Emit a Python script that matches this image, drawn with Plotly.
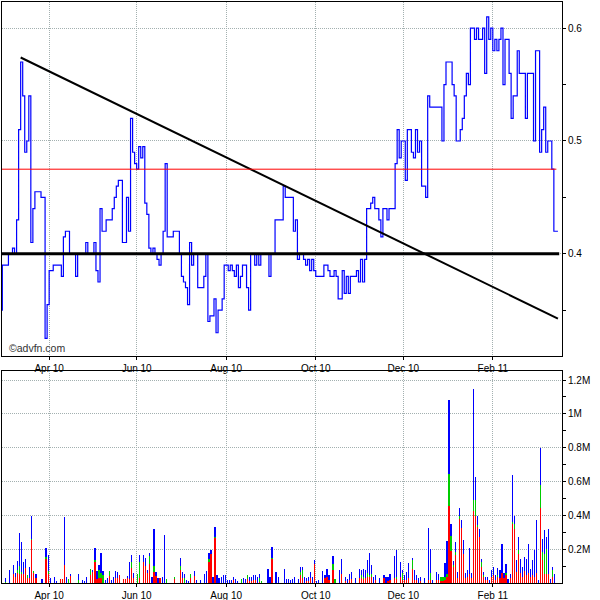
import pandas as pd
import plotly.graph_objects as go

# Trading days (weekdays), first entry is the previous close day
dates = pd.bdate_range("2010-02-26", "2011-03-17")

# Daily closing price
price = [0.35,
    0.39, 0.39, 0.39, 0.40, 0.40, 0.405, 0.40, 0.43, 0.51, 0.57,
    0.54, 0.49, 0.50, 0.54, 0.41, 0.44, 0.455, 0.455, 0.455, 0.45,
    0.45, 0.325, 0.355, 0.385, 0.385, 0.39, 0.39, 0.39, 0.39, 0.38,
    0.415, 0.42, 0.42, 0.40, 0.40, 0.40, 0.38, 0.40, 0.40, 0.40,
    0.40, 0.41, 0.40, 0.40, 0.40, 0.41, 0.385, 0.375, 0.44, 0.42,
    0.42, 0.43, 0.43, 0.43, 0.44, 0.45, 0.46, 0.465, 0.465, 0.41,
    0.41, 0.45, 0.42, 0.52, 0.49, 0.48, 0.475, 0.495, 0.485, 0.495,
    0.445, 0.435, 0.405, 0.40, 0.405, 0.40, 0.395, 0.39, 0.40, 0.42,
    0.48, 0.415, 0.415, 0.415, 0.42, 0.42, 0.42, 0.40, 0.38, 0.375,
    0.37, 0.355, 0.41, 0.39, 0.40, 0.40, 0.37, 0.37, 0.37, 0.38,
    0.40, 0.34, 0.345, 0.345, 0.36, 0.33, 0.35, 0.35, 0.36, 0.39,
    0.39, 0.385, 0.39, 0.385, 0.38, 0.39, 0.37, 0.38, 0.39, 0.39,
    0.37, 0.35, 0.40, 0.40, 0.39, 0.40, 0.39, 0.40, 0.40, 0.40,
    0.40, 0.38, 0.40, 0.40, 0.43, 0.43, 0.43, 0.43, 0.46, 0.45,
    0.45, 0.45, 0.45, 0.42, 0.43, 0.395, 0.40, 0.40, 0.395, 0.39,
    0.395, 0.385, 0.395, 0.385, 0.38, 0.38, 0.38, 0.38, 0.39, 0.39,
    0.385, 0.38, 0.38, 0.385, 0.38, 0.36, 0.36, 0.385, 0.365, 0.38,
    0.365, 0.38, 0.38, 0.38, 0.385, 0.375, 0.395, 0.375, 0.395, 0.44,
    0.44, 0.445, 0.45, 0.44, 0.44, 0.43, 0.415, 0.44, 0.44, 0.43,
    0.44, 0.44, 0.44, 0.48, 0.51, 0.485, 0.50, 0.50, 0.465, 0.51,
    0.51, 0.49, 0.485, 0.51, 0.49, 0.50, 0.46, 0.46, 0.45, 0.54,
    0.53, 0.53, 0.53, 0.53, 0.53, 0.53, 0.50, 0.55, 0.57, 0.57,
    0.57, 0.55, 0.54, 0.50, 0.50, 0.51, 0.52, 0.54, 0.56, 0.55,
    0.60, 0.60, 0.59, 0.60, 0.59, 0.59, 0.60, 0.56, 0.61, 0.59,
    0.60, 0.58, 0.59, 0.58, 0.59, 0.60, 0.55, 0.59, 0.59, 0.56,
    0.52, 0.54, 0.54, 0.58, 0.56, 0.56, 0.56, 0.52, 0.56, 0.56,
    0.56, 0.50, 0.58, 0.58, 0.49, 0.51, 0.53, 0.49, 0.50, 0.50,
    0.475, 0.42, 0.42, 0.42]

# Volume split (thousands of shares): red bottom, green middle, blue top
vol_red = [0,
    0, 0, 0, 0, 0, 57, 40, 63, 57, 57,
    57, 93, 34, 34, 258, 61, 34, 0, 0, 0,
    0, 142, 57, 0, 0, 0, 0, 0, 24, 24,
    106, 0, 0, 41, 0, 0, 0, 0, 0, 0,
    0, 0, 0, 47, 67, 124, 28, 34, 34, 0,
    0, 0, 41, 0, 0, 34, 34, 47, 0, 24,
    24, 34, 28, 93, 34, 0, 0, 34, 0, 126,
    103, 61, 116, 0, 67, 41, 0, 30, 0, 0,
    0, 0, 0, 0, 24, 0, 0, 81, 34, 0,
    0, 0, 30, 0, 41, 0, 0, 0, 0, 0,
    0, 124, 175, 0, 268, 0, 0, 0, 0, 0,
    0, 0, 0, 20, 0, 0, 0, 0, 0, 0,
    24, 15, 15, 20, 20, 0, 10, 0, 0, 0,
    0, 0, 144, 0, 0, 0, 0, 0, 0, 0,
    0, 0, 0, 0, 0, 0, 47, 30, 0, 15,
    15, 30, 0, 112, 0, 0, 0, 0, 30, 40,
    20, 0, 77, 0, 0, 0, 57, 0, 15, 0,
    20, 25, 0, 0, 0, 30, 30, 30, 30, 40,
    40, 40, 0, 20, 0, 0, 0, 30, 0, 15,
    20, 0, 30, 30, 0, 40, 20, 20, 20, 30,
    0, 83, 20, 20, 0, 15, 0, 0, 0, 20,
    18, 0, 0, 20, 20, 16, 16, 20, 37, 456,
    189, 100, 166, 30, 379, 329, 176, 30, 40, 53,
    30, 426, 400, 333, 274, 97, 40, 20, 20, 0,
    40, 50, 20, 40, 30, 60, 30, 50, 0, 30,
    355, 323, 67, 176, 60, 40, 70, 50, 60, 40,
    50, 40, 60, 0, 446, 136, 57, 57, 57, 0,
    37, 0, 0, 0]

vol_green = [0,
    0, 5, 0, 0, 0, 0, 0, 14, 45, 10,
    0, 0, 13, 0, 6, 10, 0, 0, 0, 0,
    0, 14, 14, 0, 0, 0, 0, 0, 0, 0,
    0, 0, 25, 0, 0, 0, 0, 20, 0, 0,
    0, 0, 0, 36, 0, 14, 0, 43, 24, 47,
    0, 0, 30, 0, 0, 0, 0, 0, 0, 0,
    0, 0, 0, 32, 0, 0, 53, 90, 0, 0,
    0, 0, 43, 0, 34, 0, 0, 0, 0, 0,
    24, 0, 0, 0, 16, 0, 0, 20, 0, 30,
    0, 0, 23, 0, 0, 0, 0, 0, 0, 0,
    0, 22, 0, 0, 6, 0, 0, 0, 0, 0,
    0, 0, 0, 0, 0, 0, 0, 24, 0, 0,
    23, 0, 0, 0, 0, 0, 20, 12, 0, 0,
    0, 0, 6, 0, 0, 0, 0, 0, 0, 0,
    0, 0, 0, 0, 0, 0, 20, 50, 0, 0,
    0, 0, 0, 0, 0, 0, 0, 0, 0, 0,
    0, 0, 39, 24, 0, 0, 0, 0, 0, 0,
    0, 0, 0, 0, 0, 0, 20, 10, 0, 20,
    10, 15, 0, 0, 0, 0, 0, 0, 0, 0,
    0, 0, 0, 10, 0, 0, 40, 0, 0, 0,
    0, 53, 0, 0, 0, 0, 0, 0, 0, 0,
    40, 0, 0, 0, 0, 20, 20, 16, 20, 193,
    89, 10, 20, 0, 18, 0, 0, 0, 0, 0,
    0, 65, 95, 10, 0, 29, 10, 0, 0, 0,
    0, 0, 0, 10, 0, 0, 0, 10, 0, 0,
    10, 30, 0, 20, 0, 0, 0, 0, 0, 0,
    0, 0, 0, 0, 138, 49, 118, 148, 0, 0,
    40, 0, 0, 0]

vol_blue = [0,
    0, 29, 0, 80, 0, 53, 23, 53, 194, 176,
    67, 49, 0, 61, 136, 0, 19, 0, 0, 24,
    0, 53, 95, 30, 0, 35, 12, 0, 0, 0,
    284, 40, 0, 12, 0, 0, 0, 37, 0, 20,
    12, 40, 0, 0, 6, 69, 43, 29, 119, 24,
    20, 30, 0, 20, 40, 37, 31, 0, 0, 0,
    0, 6, 96, 45, 27, 0, 0, 42, 0, 40,
    45, 16, 18, 40, 219, 26, 30, 0, 35, 284,
    0, 0, 0, 0, 0, 0, 0, 47, 31, 23,
    18, 12, 0, 0, 30, 18, 0, 18, 0, 53,
    71, 31, 20, 40, 56, 47, 30, 40, 47, 47,
    18, 18, 18, 15, 24, 12, 0, 0, 30, 24,
    0, 25, 25, 27, 27, 35, 23, 0, 0, 0,
    83, 35, 63, 0, 65, 40, 0, 0, 83, 24,
    24, 18, 24, 35, 0, 24, 28, 15, 35, 15,
    20, 35, 40, 24, 12, 18, 0, 71, 17, 43,
    27, 0, 44, 0, 0, 77, 85, 0, 25, 24,
    33, 40, 0, 30, 0, 53, 27, 43, 47, 76,
    127, 51, 40, 27, 0, 30, 0, 17, 40, 20,
    33, 0, 130, 155, 0, 84, 17, 27, 45, 88,
    0, 12, 57, 27, 30, 20, 0, 30, 0, 307,
    142, 18, 0, 45, 33, 0, 0, 82, 191, 434,
    72, 20, 57, 35, 47, 48, 79, 31, 37, 154,
    28, 657, 135, 53, 49, 20, 17, 17, 17, 18,
    41, 47, 31, 43, 47, 175, 31, 56, 24, 27,
    275, 47, 69, 78, 86, 57, 86, 96, 175, 47,
    86, 155, 317, 18, 213, 79, 139, 69, 263, 28,
    20, 57, 0, 0]

# Trend line end points and reference levels
trend_dates = ["2010-03-12", "2011-03-17"]
trend_values = [0.574, 0.3426]
support_level = 0.40
prev_close = 0.475

# Axis ticks
month_ticks = ["2010-04-01", "2010-06-01", "2010-08-02", "2010-10-01", "2010-12-01", "2011-02-01"]
month_labels = ["Apr 10", "Jun 10", "Aug 10", "Oct 10", "Dec 10", "Feb 11"]
price_ticks = [0.4, 0.5, 0.6]
price_labels = ["0.4", "0.5", "0.6"]
price_minor = [0.35, 0.45, 0.55]
vol_ticks = [200, 400, 600, 800, 1000, 1200]
vol_labels = ["0.2M", "0.4M", "0.6M", "0.8M", "1M", "1.2M"]
vol_minor = [100, 300, 500, 700, 900, 1100]

assert len(dates) == len(price) == len(vol_red) == len(vol_green) == len(vol_blue)

FONT = "Liberation Sans, Arial, sans-serif"
GRID = "#a3b0b0"
DAY = 86400000

fig = go.Figure()

fig.add_trace(go.Scatter(x=dates, y=price, mode="lines", line_shape="hv",
                         line=dict(color="#0000ff", width=1.2), xaxis="x", yaxis="y",
                         showlegend=False, hoverinfo="skip"))
fig.add_trace(go.Scatter(x=trend_dates, y=trend_values, mode="lines",
                         line=dict(color="#000000", width=2), xaxis="x", yaxis="y",
                         showlegend=False, hoverinfo="skip"))

for vals, col in [(vol_red, "#ff0000"), (vol_green, "#00cc00"), (vol_blue, "#0000ff")]:
    fig.add_trace(go.Bar(x=dates, y=vals, marker=dict(color=col, line=dict(width=0)),
                         width=0.1 * DAY, offset=0.45 * DAY,
                         xaxis="x2", yaxis="y2", showlegend=False, hoverinfo="skip"))

fig.add_shape(type="line", xref="x domain", yref="y", x0=0, x1=0.995,
              y0=support_level, y1=support_level, line=dict(color="#000000", width=3))
fig.add_shape(type="line", xref="x domain", yref="y", x0=0, x1=0.99,
              y0=prev_close, y1=prev_close, line=dict(color="#ff0000", width=1))

xcommon = dict(type="date", range=["2010-02-26 20:00", "2011-03-21"],
               rangebreaks=[dict(bounds=["sat", "mon"])],
               tickmode="array", tickvals=month_ticks, ticktext=month_labels,
               showgrid=True, gridcolor=GRID, griddash="1px,1px", gridwidth=1,
               ticks="outside", ticklen=3, tickcolor="#000000",
               showline=True, linecolor="#000000", linewidth=1, mirror=True,
               tickfont=dict(family=FONT, size=10, color="#000000"),
               zeroline=False, automargin=False, fixedrange=True)

fig.update_layout(
    width=600, height=600,
    margin=dict(l=2, r=38, t=2, b=17),
    paper_bgcolor="white", plot_bgcolor="white",
    barmode="stack", bargap=0, hovermode=False,
    xaxis=dict(anchor="y", domain=[0, 1], **xcommon),
    xaxis2=dict(anchor="y2", domain=[0, 1], matches="x", **xcommon),
    yaxis=dict(anchor="x", domain=[0.3907, 1], side="right",
               range=[0.3094, 0.6232], tickmode="array",
               tickvals=price_ticks, ticktext=price_labels,
               showgrid=True, gridcolor=GRID, griddash="1px,1px",
               ticks="outside", ticklen=3, tickcolor="#000000",
               minor=dict(tickvals=price_minor, ticks="outside", ticklen=3,
                          tickcolor="#000000", showgrid=False),
               showline=True, linecolor="#000000", linewidth=1, mirror=True,
               tickfont=dict(family=FONT, size=10, color="#000000"),
               zeroline=False, automargin=False, fixedrange=True),
    yaxis2=dict(anchor="x2", domain=[0, 0.3654], side="right",
                range=[0, 1255], tickmode="array",
                tickvals=vol_ticks, ticktext=vol_labels,
                showgrid=True, gridcolor=GRID, griddash="1px,1px",
                ticks="outside", ticklen=3, tickcolor="#000000",
                minor=dict(tickvals=vol_minor, ticks="outside", ticklen=3,
                           tickcolor="#000000", showgrid=False),
                showline=True, linecolor="#000000", linewidth=1, mirror=True,
                tickfont=dict(family=FONT, size=10, color="#000000"),
                zeroline=False, automargin=False, fixedrange=True),
    annotations=[dict(text="©advfn.com", xref="paper", yref="paper",
                      x=0.009, y=0.4053, xanchor="left", yanchor="middle",
                      showarrow=False,
                      font=dict(family=FONT, size=10.5, color="#333333"))],
)

fig.write_html("out.html",
               config={"displayModeBar": False},
               post_script="document.body.style.margin='0';document.body.style.overflow='hidden';")
